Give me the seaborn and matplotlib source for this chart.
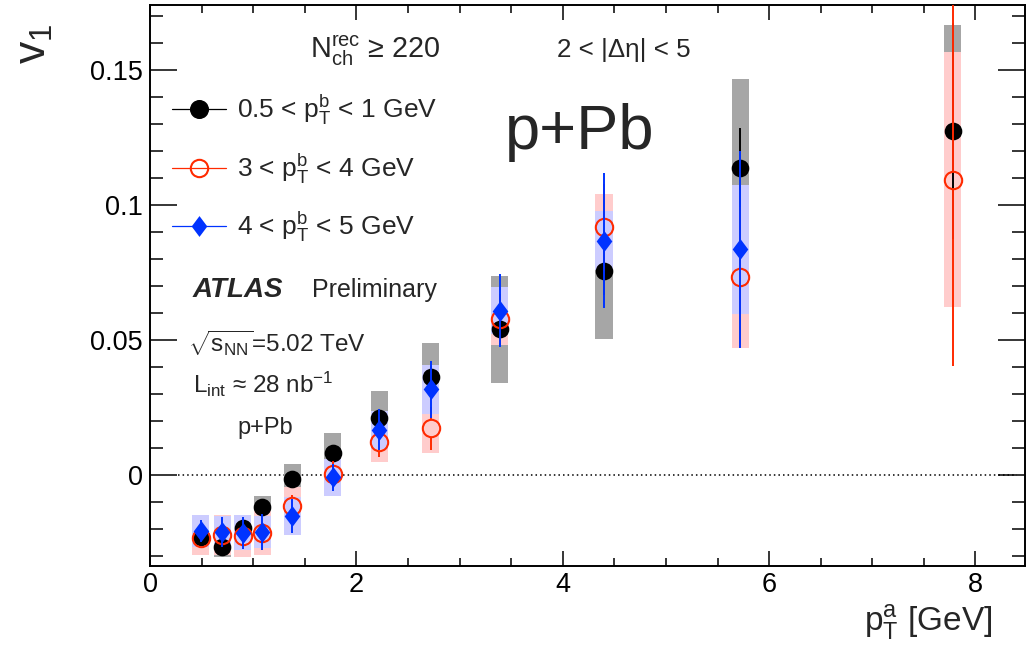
import numpy as np
import pandas as pd
import seaborn as sns
import matplotlib
matplotlib.use("Agg")
import matplotlib.pyplot as plt
from matplotlib.lines import Line2D
from matplotlib.path import Path
from matplotlib.ticker import MultipleLocator, FuncFormatter

# ---------------- data ----------------
pt_a = [0.49, 0.70, 0.90, 1.09, 1.38, 1.77, 2.22, 2.72, 3.39, 4.40, 5.72, 7.78]

# 0.5 < pT^b < 1 GeV (black)
v1_b1 = [-0.0228, -0.0265, -0.0198, -0.0120, -0.0014, 0.0080, 0.0212, 0.0362, 0.0540, 0.0756, 0.1138, 0.1274]
stat_b1 = [0.0015, 0.0015, 0.0015, 0.0018, 0.0020, 0.0025, 0.0030, 0.0040, 0.0060, 0.0090, 0.0146, 0.0400]
sys_b1 = [0.0040, 0.0040, 0.0042, 0.0042, 0.0055, 0.0074, 0.0100, 0.0126, 0.0199, 0.0252, 0.0330, 0.0392]

# 3 < pT^b < 4 GeV (red, open)
v1_b2 = [-0.0232, -0.0222, -0.0226, -0.0214, -0.0115, 0.0003, 0.0123, 0.0173, 0.0579, 0.0917, 0.0734, 0.1094]
stat_b2 = [0.0030, 0.0030, 0.0035, 0.0035, 0.0040, 0.0050, 0.0058, 0.0080, 0.0090, 0.0160, 0.0260, 0.0690]
sys_b2 = [0.0064, 0.0074, 0.0076, 0.0082, 0.0072, 0.0055, 0.0076, 0.0090, 0.0098, 0.0124, 0.0263, 0.0472]

# 4 < pT^b < 5 GeV (blue diamonds)
pt_a_b3 = pt_a[:11]
v1_b3 = [-0.0207, -0.0212, -0.0214, -0.0210, -0.0152, -0.0008, 0.0168, 0.0317, 0.0609, 0.0868, 0.0836]
stat_b3 = [0.0042, 0.0055, 0.0060, 0.0066, 0.0062, 0.0050, 0.0075, 0.0107, 0.0136, 0.0250, 0.0364]
sys_b3 = [0.0060, 0.0060, 0.0065, 0.0060, 0.0070, 0.0068, 0.0070, 0.0090, 0.0088, 0.0110, 0.0240]

labels = [r"0.5 < p$_{T}^{b}$ < 1 GeV", r"3 < p$_{T}^{b}$ < 4 GeV", r"4 < p$_{T}^{b}$ < 5 GeV"]
x_ticks = [0, 2, 4, 6, 8]
y_ticks = [0, 0.05, 0.1, 0.15]

# ---------------- style ----------------
sns.set_theme(style="ticks")
plt.rcParams["font.family"] = ["Liberation Sans", "DejaVu Sans"]
plt.rcParams["mathtext.fontset"] = "custom"
plt.rcParams["mathtext.rm"] = "Liberation Sans"
plt.rcParams["mathtext.it"] = "Liberation Sans:italic"
plt.rcParams["mathtext.bf"] = "Liberation Sans:bold"
plt.rcParams["mathtext.default"] = "regular"

RED = "#ff2a00"
BLUE = "#0033ff"
C_GREY = "#a6a6a6"
C_PINK = "#ffcccc"
C_LBLUE = "#ccccff"

W, H = 1027, 647
fig = plt.figure(figsize=(W / 100, H / 100), dpi=100)
L, R, T, B = 150, 1025, 5, 566
ax = fig.add_axes([L / W, 1 - B / H, (R - L) / W, (B - T) / H])

xmin, xmax = 0, 8.48
ymin, ymax = -0.0337, 0.1741
ax.set_xlim(xmin, xmax)
ax.set_ylim(ymin, ymax)

box_w = 0.165

df1 = pd.DataFrame({"x": pt_a, "y": v1_b1, "stat": stat_b1, "sys": sys_b1})
df2 = pd.DataFrame({"x": pt_a, "y": v1_b2, "stat": stat_b2, "sys": sys_b2})
df3 = pd.DataFrame({"x": pt_a_b3, "y": v1_b3, "stat": stat_b3, "sys": sys_b3})

# systematic boxes
for df, col, z in [(df1, C_GREY, 1), (df2, C_PINK, 2), (df3, C_LBLUE, 3)]:
    ax.bar(df["x"], 2 * df["sys"], bottom=df["y"] - df["sys"], width=box_w,
           color=col, linewidth=0, zorder=z)

# zero line
ax.hlines(0, 0.27, 8.4, colors="black", linestyles=(0, (1, 2)), linewidth=1.1, zorder=0.5)

# black series
ax.vlines(df1["x"], df1["y"] - df1["stat"], df1["y"] + df1["stat"], colors="black", linewidth=1.4, zorder=4)
sns.scatterplot(data=df1, x="x", y="y", marker="o", s=12.7 ** 2, color="black",
                edgecolor="black", linewidth=0, zorder=4.5, ax=ax, legend=False)

# red series: open circle, error bar not drawn inside marker
dy_per_px = (ymax - ymin) / (B - T)
gap = 8.8 * dy_per_px
lo = df2["y"] - df2["stat"]
hi = df2["y"] + df2["stat"]
ax.vlines(df2["x"], lo, np.minimum(df2["y"] - gap, hi), colors=RED, linewidth=1.4, zorder=5)
ax.vlines(df2["x"], np.maximum(df2["y"] + gap, lo), hi, colors=RED, linewidth=1.4, zorder=5)
ax.plot(df2["x"], df2["y"], linestyle="none", marker="o", ms=12.5, mfc="none",
        mec=RED, mew=1.5, zorder=5.5)

# blue series
diamond = Path([(0, 1), (0.75, 0), (0, -1), (-0.75, 0), (0, 1)],
               [Path.MOVETO, Path.LINETO, Path.LINETO, Path.LINETO, Path.CLOSEPOLY])
ax.vlines(df3["x"], df3["y"] - df3["stat"], df3["y"] + df3["stat"], colors=BLUE, linewidth=1.4, zorder=6)
sns.scatterplot(data=df3, x="x", y="y", marker=diamond, s=15 ** 2, color=BLUE,
                edgecolor=BLUE, linewidth=0, zorder=6.5, ax=ax, legend=False)

# ---------------- axes ----------------
ax.set_xticks(x_ticks)
ax.set_yticks(y_ticks)
ax.xaxis.set_minor_locator(MultipleLocator(0.5))
ax.yaxis.set_minor_locator(MultipleLocator(0.01))
fmt = FuncFormatter(lambda v, p: "%g" % round(v, 4))
ax.xaxis.set_major_formatter(fmt)
ax.yaxis.set_major_formatter(fmt)
for s in ax.spines.values():
    s.set_linewidth(1.4)
    s.set_color("black")
ax.tick_params(axis="both", which="both", direction="in", top=True, right=True,
               colors="black", width=1.1, labelsize=19.5)
ax.tick_params(axis="y", which="major", length=19.4, pad=5)
ax.tick_params(axis="y", which="minor", length=9.4)
ax.tick_params(axis="x", which="major", length=10.8, pad=4)
ax.tick_params(axis="x", which="minor", length=5.8)
ax.grid(False)

ax.set_xlabel(r"p$_{T}^{a}$ [GeV]", fontsize=24)
ax.xaxis.set_label_coords((992 - L) / (R - L), -(631 - B) / (B - T))
ax.xaxis.label.set_ha("right")
ax.xaxis.label.set_va("baseline")
ax.set_ylabel(r"v$_{1}$", fontsize=32, rotation=90)
ax.yaxis.label.set_rotation_mode("anchor")
ax.yaxis.set_label_coords((34 - L) / (R - L), 1 - (24 - T) / (B - T))
ax.yaxis.label.set_ha("right")
ax.yaxis.label.set_va("center")

# ---------------- legend ----------------
handles = [
    Line2D([], [], color="black", lw=0.9, marker="o", ms=12.7, mfc="black", mec="black"),
    Line2D([], [], color=RED, lw=0.9, marker="o", ms=12.5, mfc="none", mec=RED, mew=1.5),
    Line2D([], [], color=BLUE, lw=0.9, marker=diamond, ms=15, mfc=BLUE, mec=BLUE, mew=0),
]
leg = ax.legend(handles, labels, loc="upper left",
                bbox_to_anchor=((172 - L) / (R - L), 1 - (93 - T) / (B - T)),
                frameon=False, fontsize=19, handlelength=2.05, handletextpad=0.42,
                labelspacing=0.93, borderpad=0, borderaxespad=0)

# ---------------- texts ----------------
def ftext(px, py, s, **kw):
    fig.text(px / W, 1 - py / H, s, va="baseline", ha="left", **kw)

ftext(310, 58, r"N$_{ch}^{rec}$ ≥ 220", fontsize=20.7)
ftext(557, 57, "2 < |Δη| < 5", fontsize=18.7)
ftext(505, 149, "p+Pb", fontsize=45.5)
ftext(193, 297, "ATLAS", fontsize=20, fontweight="bold", fontstyle="italic")
ftext(312, 297, "Preliminary", fontsize=18)
ftext(188, 352, r"$\sqrt{s_{NN}}$=5.02 TeV", fontsize=17.5)
ftext(193, 393, r"L$_{int}$ ≈ 28 nb$^{-1}$", fontsize=17.5)
ftext(237, 434, "p+Pb", fontsize=17)

fig.savefig("out.png", dpi=100)
